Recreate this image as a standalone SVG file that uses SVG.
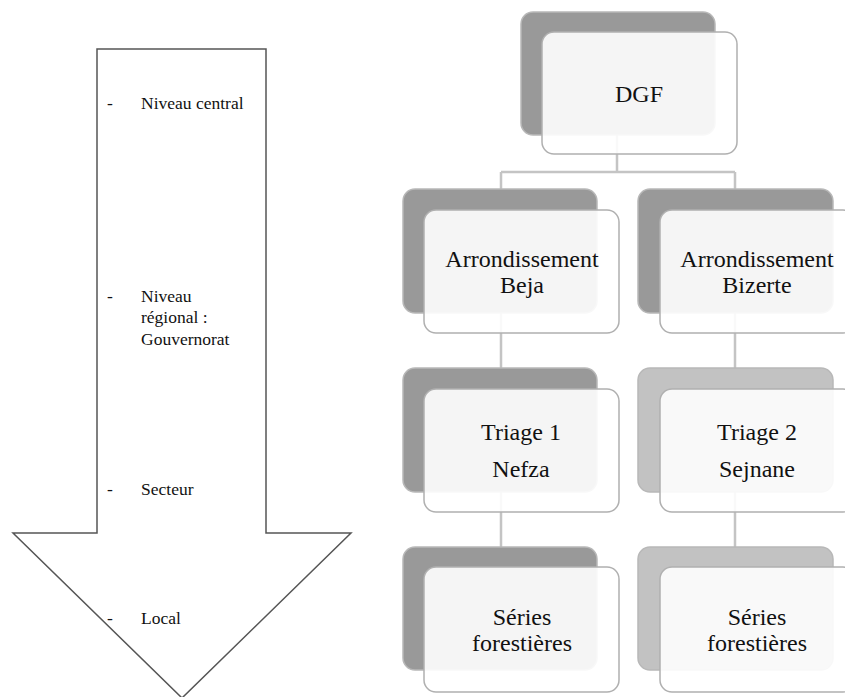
<svg xmlns="http://www.w3.org/2000/svg" width="845" height="697" viewBox="0 0 845 697">
<style>
  text { font-family: 'Liberation Serif', 'DejaVu Serif', serif; fill: #111; }
  .lt { font-size: 17.5px; }
  .nt { font-size: 24px; text-anchor: middle; }
  .back { stroke: #b8b8b8; stroke-width: 1.5; }
  .dark { fill: #999999; }
  .light { fill: #c2c2c2; }
  .front { fill: #ffffff; fill-opacity: 0.9; stroke: #b0b0b0; stroke-width: 1.5; }
  .conn { stroke: #c4c4c4; stroke-width: 2.5; fill: none; }
</style>
<rect width="845" height="697" fill="#ffffff"/>

<g id="arrow" font-family="Liberation Serif, serif">
  <polygon points="97,49 266,49 266,533 351,533 182,698 13,533 97,533" fill="#ffffff" stroke="#555555" stroke-width="1.5" stroke-linejoin="miter"/>
  <text class="lt" x="107" y="109">-</text>
  <text class="lt" x="141" y="109">Niveau central</text>
  <text class="lt" x="107" y="302">-</text>
  <text class="lt" x="141" y="302">Niveau</text>
  <text class="lt" x="141" y="323">régional :</text>
  <text class="lt" x="141" y="345">Gouvernorat</text>
  <text class="lt" x="107" y="495">-</text>
  <text class="lt" x="141" y="495">Secteur</text>
  <text class="lt" x="107" y="624">-</text>
  <text class="lt" x="141" y="624">Local</text>
</g>

<g id="connectors">
  <path class="conn" d="M617,135 V172 M501,172 H735 M501,172 V189 M735,172 V189"/>
  <path class="conn" d="M501,313 V368 M735,313 V368"/>
  <path class="conn" d="M501,492 V547 M735,492 V547"/>
</g>

<g id="dgf">
  <rect class="back dark" x="521" y="12" width="194" height="123" rx="12"/>
  <rect class="front" x="542" y="32" width="195" height="122" rx="12"/>
  <text class="nt" x="639" y="102">DGF</text>
</g>

<g id="arr-beja">
  <rect class="back dark" x="403" y="189" width="194" height="124" rx="12"/>
  <rect class="front" x="424" y="210" width="195" height="123" rx="12"/>
  <text class="nt" x="522" y="267">Arrondissement</text>
  <text class="nt" x="522" y="293">Beja</text>
</g>

<g id="arr-bizerte">
  <rect class="back dark" x="638" y="189" width="195" height="124" rx="12"/>
  <rect class="front" x="660" y="210" width="195" height="123" rx="12"/>
  <text class="nt" x="757" y="267">Arrondissement</text>
  <text class="nt" x="757" y="293">Bizerte</text>
</g>

<g id="triage1">
  <rect class="back dark" x="403" y="368" width="194" height="124" rx="12"/>
  <rect class="front" x="424" y="389" width="195" height="123" rx="12"/>
  <text class="nt" x="521" y="440">Triage 1</text>
  <text class="nt" x="521" y="477">Nefza</text>
</g>

<g id="triage2">
  <rect class="back light" x="638" y="368" width="195" height="124" rx="12"/>
  <rect class="front" x="660" y="389" width="195" height="123" rx="12"/>
  <text class="nt" x="757" y="440">Triage 2</text>
  <text class="nt" x="757" y="477">Sejnane</text>
</g>

<g id="series1">
  <rect class="back dark" x="403" y="547" width="194" height="123" rx="12"/>
  <rect class="front" x="424" y="567" width="195" height="125" rx="12"/>
  <text class="nt" x="522" y="625">Séries</text>
  <text class="nt" x="522" y="651">forestières</text>
</g>

<g id="series2">
  <rect class="back light" x="638" y="547" width="195" height="123" rx="12"/>
  <rect class="front" x="660" y="567" width="195" height="125" rx="12"/>
  <text class="nt" x="757" y="625">Séries</text>
  <text class="nt" x="757" y="651">forestières</text>
</g>
</svg>
